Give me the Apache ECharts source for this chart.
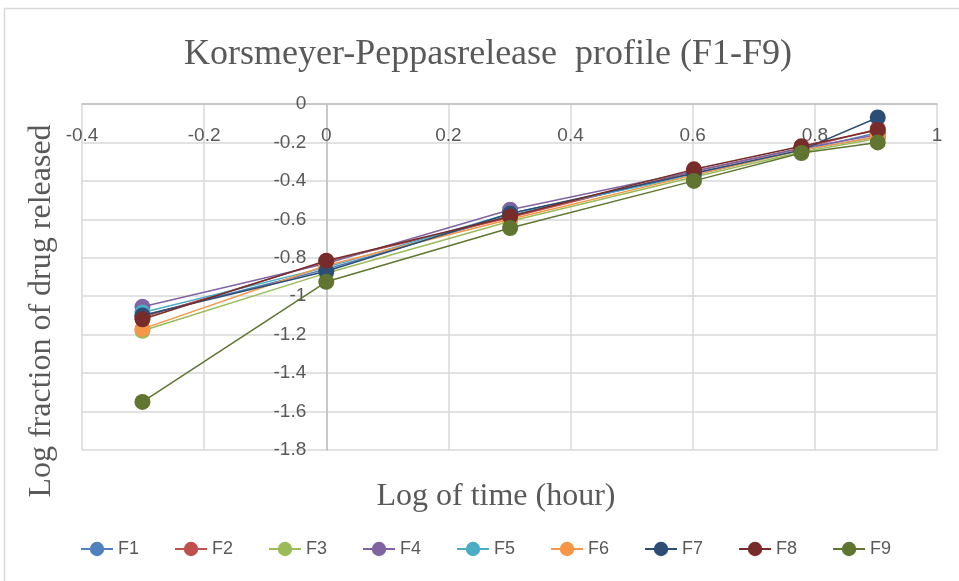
<!DOCTYPE html>
<html>
<head>
<meta charset="utf-8">
<script src="https://cdn.jsdelivr.net/npm/echarts@6/dist/echarts.min.js"></script>
<style>
  html, body { margin: 0; padding: 0; background: #ffffff; }
  #chart { width: 959px; height: 581px; }
</style>
</head>
<body>
<div id="chart"></div>
<script>
// Log of sampling time (0.5, 1, 2, 4, 6, 8 h)
const logTime = [-0.301, 0, 0.301, 0.602, 0.778, 0.903];

// Log fraction of drug released for each formulation
const F1 = [-1.10, -0.86, -0.58, -0.36, -0.24, -0.15];
const F2 = [-1.11, -0.82, -0.59, -0.35, -0.23, -0.13];
const F3 = [-1.18, -0.88, -0.61, -0.38, -0.25, -0.18];
const F4 = [-1.055, -0.83, -0.55, -0.35, -0.23, -0.16];
const F5 = [-1.085, -0.85, -0.57, -0.37, -0.24, -0.17];
const F6 = [-1.17, -0.84, -0.60, -0.37, -0.24, -0.17];
const F7 = [-1.10, -0.87, -0.57, -0.36, -0.24, -0.07];
const F8 = [-1.12, -0.815, -0.585, -0.34, -0.22, -0.135];
const F9 = [-1.55, -0.925, -0.645, -0.40, -0.255, -0.20];

const seriesNames = ['F1', 'F2', 'F3', 'F4', 'F5', 'F6', 'F7', 'F8', 'F9'];
const seriesValues = [F1, F2, F3, F4, F5, F6, F7, F8, F9];
const seriesColors = ['#4F81BD', '#C0504D', '#9BBB59', '#8064A2', '#4BACC6',
                      '#F79646', '#2C4D75', '#772C2A', '#5F7530'];

const xMin = -0.4, xMax = 1, yMin = -1.8, yMax = 0;
const gridBox = { left: 82, right: 22, top: 104, bottom: 131 };
const plotW = 959 - gridBox.left - gridBox.right;
const plotH = 581 - gridBox.top - gridBox.bottom;

const chart = echarts.init(document.getElementById('chart'));

const textGray = '#595959';
const serif = '"Liberation Serif", "Times New Roman", serif';
const sans = '"Liberation Sans", Arial, sans-serif';

const series = seriesNames.map((name, i) => ({
  name: name,
  type: 'line',
  data: logTime.map((x, j) => [x, seriesValues[i][j]]),
  symbol: 'circle',
  symbolSize: 16,
  lineStyle: { width: 1.5, color: seriesColors[i] },
  itemStyle: { color: seriesColors[i] },
  emphasis: { disabled: true },
  z: 2 + i
}));

const fmt = v => String(Math.round(v * 10) / 10);

chart.setOption({
  animation: false,
  backgroundColor: '#ffffff',
  color: seriesColors,
  grid: gridBox,
  xAxis: {
    type: 'value',
    min: xMin,
    max: xMax,
    interval: 0.2,
    position: 'bottom',
    // the horizontal axis crosses at y = 0, i.e. along the top edge of the plot
    offset: -plotH * (0 - yMin) / (yMax - yMin),
    axisLine: { show: true, onZero: false, lineStyle: { color: '#bfbfbf', width: 1.5 } },
    axisTick: { show: false },
    axisLabel: { margin: 22, fontFamily: sans, fontSize: 19, color: textGray, formatter: fmt },
    splitLine: { show: true, lineStyle: { color: '#d9d9d9', width: 1.5 } }
  },
  yAxis: {
    type: 'value',
    min: yMin,
    max: yMax,
    interval: 0.2,
    position: 'left',
    // the vertical axis crosses at x = 0
    offset: -plotW * (0 - xMin) / (xMax - xMin),
    axisLine: { show: true, onZero: false, lineStyle: { color: '#bfbfbf', width: 1.5 } },
    axisTick: { show: false },
    axisLabel: { margin: 20, fontFamily: sans, fontSize: 19, color: textGray, formatter: fmt },
    splitLine: { show: true, lineStyle: { color: '#d9d9d9', width: 1.5 } }
  },
  legend: {
    data: seriesNames,
    bottom: 18,
    left: 75,
    itemWidth: 32,
    itemHeight: 18,
    itemGap: 35,
    textStyle: { fontFamily: sans, fontSize: 18, color: textGray }
  },
  graphic: [
    {
      type: 'rect',
      shape: { x: 4.5, y: 8.5, width: 970, height: 580 },
      style: { fill: 'none', stroke: '#d9d9d9', lineWidth: 1.5 },
      z: 0, silent: true
    },
    {
      type: 'text',
      x: 488, y: 55,
      style: {
        text: 'Korsmeyer-Peppasrelease  profile (F1-F9)',
        fontFamily: serif, fontSize: 36, fill: textGray,
        align: 'center', verticalAlign: 'middle'
      },
      silent: true
    },
    {
      type: 'text',
      x: 42, y: 311,
      rotation: Math.PI / 2,
      style: {
        text: 'Log fraction of drug released',
        fontFamily: serif, fontSize: 32, fill: textGray,
        align: 'center', verticalAlign: 'middle'
      },
      silent: true
    },
    {
      type: 'text',
      x: 496, y: 497,
      style: {
        text: 'Log of time (hour)',
        fontFamily: serif, fontSize: 32, fill: textGray,
        align: 'center', verticalAlign: 'middle'
      },
      silent: true
    }
  ],
  series: series
});
</script>
</body>
</html>
